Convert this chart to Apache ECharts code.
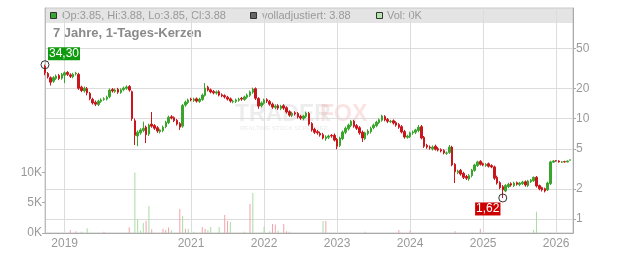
<!DOCTYPE html>
<html><head><meta charset="utf-8">
<script src="https://cdn.jsdelivr.net/npm/echarts@6/dist/echarts.min.js"></script>
<style>html,body{margin:0;padding:0;background:#fff}#c{width:632px;height:253px}</style>
</head><body><div id="c"></div>
<script>
// ---- data (biweekly candles) ----
const startDate = '2018-10-05';
const stepDays = 14;
const gapAfterIndex = 30;   // trading pause in 2020 (no data)
const gapSteps = 7;
const yearLabels = ['2019','2021','2022','2023','2024','2025','2026'];
const priceTicks = [1, 2, 5, 10, 20, 50];
const volTicks = [0, 5000, 10000];

const open = [
33.0,28.0,25.5,23.5,25.0,26.8,25.2,27.0,28.8,27.2,
26.0,27.8,27.5,20.5,18.8,19.8,17.8,15.5,14.5,13.8,
14.8,15.5,15.6,16.5,19.4,18.6,19.5,18.2,19.4,20.0,
20.8,18.5,9.5,6.7,7.2,7.6,8.2,7.0,8.8,8.5,
8.1,7.4,7.6,8.3,9.1,10.4,10.2,9.6,8.9,8.4,
13.6,14.4,15.6,15.1,15.7,14.8,15.5,17.0,20.5,19.3,
18.6,17.9,18.5,17.2,16.9,16.3,15.7,14.7,14.8,15.2,
15.9,15.5,16.3,17.0,18.3,19.8,15.8,13.4,14.2,15.4,
14.8,13.9,12.9,13.4,12.6,13.4,12.8,11.7,10.7,11.4,
11.2,10.5,10.0,10.5,11.2,8.9,7.8,7.4,7.1,6.9,
6.3,6.5,6.8,6.8,6.2,5.4,6.3,7.3,7.9,8.5,
9.4,8.5,8.1,7.3,6.3,7.1,7.4,8.1,8.5,9.1,
9.6,10.5,9.8,9.3,9.5,9.1,8.7,8.3,7.4,6.5,
6.6,7.2,7.3,7.6,8.3,6.5,5.4,5.2,5.0,5.3,
5.0,4.9,4.8,4.5,4.6,5.2,3.5,2.9,3.05,2.85,
2.65,2.5,2.7,3.05,3.4,3.75,3.55,3.4,3.55,3.4,
3.3,2.6,2.3,2.1,1.9,2.1,2.25,2.15,2.3,2.2,
2.25,2.35,2.15,2.35,2.4,2.6,2.15,2.05,2.0,1.95,
2.25,3.68,3.8,3.78,3.68,3.72,3.7,3.85];
const close = [
28.5,26.0,23.0,25.5,26.5,25.0,27.5,28.5,27.5,26.3,
27.5,28.3,20.0,19.0,20.0,18.0,15.8,14.3,13.9,14.9,
15.3,15.7,16.3,19.2,18.8,19.2,18.3,19.3,20.1,20.6,
19.2,10.0,6.8,7.3,7.7,8.0,6.9,8.6,8.4,8.0,
7.5,7.7,8.2,9.2,10.3,10.1,9.5,8.8,8.2,13.5,
14.6,15.3,15.3,15.6,14.9,15.6,17.1,20.1,19.2,18.4,
18.0,18.4,17.1,16.8,16.4,15.6,14.9,14.9,15.3,15.6,
15.6,16.4,17.1,18.4,19.6,15.9,13.3,14.3,15.3,14.9,
13.9,13.0,13.3,12.7,13.3,12.7,11.6,10.8,11.3,11.1,
10.4,10.1,10.6,11.3,8.8,7.7,7.3,7.2,6.85,6.4,
6.55,6.7,6.7,6.1,5.3,6.4,7.35,8.0,8.6,9.4,
8.4,8.0,7.2,6.4,7.2,7.5,8.0,8.6,9.2,9.7,
10.6,9.7,9.4,9.4,9.0,8.6,8.2,7.35,6.55,6.7,
7.2,7.35,7.7,8.2,6.4,5.3,5.2,5.1,5.2,4.95,
4.85,4.75,4.55,4.55,5.2,3.45,2.95,3.0,2.8,2.6,
2.55,2.7,3.07,3.45,3.7,3.5,3.45,3.5,3.35,3.3,
2.55,2.28,2.05,1.95,2.15,2.22,2.18,2.28,2.22,2.28,
2.33,2.18,2.39,2.44,2.6,2.13,2.0,1.95,1.9,2.28,
3.7,3.78,3.78,3.7,3.7,3.7,3.78,3.88];
const high = [
34.3,29.0,26.3,26.4,27.4,27.8,28.4,29.4,29.6,28.2,
28.5,29.2,28.5,21.2,20.8,20.6,18.4,16.1,15.1,15.4,
15.9,16.3,16.9,19.9,20.1,19.9,20.2,20.0,20.8,21.4,
21.5,19.0,10.0,7.6,8.0,9.3,8.5,8.9,11.6,8.8,
8.4,7.9,8.5,9.5,10.7,10.8,10.5,9.9,9.2,14.0,
15.1,15.8,16.1,16.1,16.2,16.1,17.7,22.5,21.2,19.9,
19.2,19.0,19.1,17.8,17.4,16.8,16.2,15.4,15.8,16.1,
16.4,16.9,17.7,19.0,20.3,20.4,16.3,14.8,15.8,15.9,
15.3,14.4,13.8,13.9,13.7,13.9,13.2,12.1,11.7,11.8,
11.6,10.9,10.9,11.7,11.6,9.2,8.1,7.7,7.4,7.2,
6.8,6.9,7.0,7.1,6.4,6.6,7.6,8.3,8.9,9.7,
9.7,8.8,8.4,7.6,7.4,7.8,8.3,8.9,9.5,10.0,
10.9,10.8,10.1,9.7,9.8,9.4,9.0,8.6,7.7,6.9,
7.4,7.6,7.9,8.6,8.6,6.7,5.6,5.4,5.4,5.5,
5.2,5.05,4.95,4.7,5.45,5.35,3.6,3.1,3.15,2.95,
2.75,2.8,3.15,3.55,3.8,3.85,3.65,3.6,3.65,3.5,
3.4,2.7,2.38,2.18,2.22,2.3,2.32,2.35,2.36,2.34,
2.4,2.42,2.45,2.5,2.65,2.68,2.2,2.1,2.05,2.35,
3.8,3.85,3.86,3.84,3.78,3.8,3.82,3.88];
const low = [
27.0,25.0,21.3,22.6,24.2,24.1,24.3,22.5,26.5,25.3,
25.1,26.8,19.3,18.3,18.1,17.0,15.2,13.8,13.3,13.3,
14.3,15.0,15.1,15.9,18.1,18.0,17.6,17.6,18.7,19.3,
18.5,9.5,5.45,5.3,6.9,7.3,5.7,6.7,8.1,7.7,
7.2,7.1,7.3,8.0,8.8,9.8,9.2,8.5,7.7,8.1,
13.1,13.9,14.8,14.6,14.4,14.3,15.0,16.5,18.6,17.8,
17.4,17.3,16.6,16.3,15.8,15.1,14.4,14.2,14.3,14.7,
15.0,15.0,15.7,16.4,17.6,15.3,12.5,12.9,13.7,14.3,
13.4,12.5,12.4,12.2,12.1,12.2,11.2,10.4,10.3,10.7,
10.0,9.7,9.6,10.1,8.5,7.4,7.0,6.9,6.6,6.2,
6.0,6.25,6.45,5.9,4.95,5.2,6.1,7.0,7.6,8.2,
8.1,7.7,6.9,5.85,6.1,6.8,7.1,7.8,8.2,8.8,
9.3,9.4,9.0,9.0,8.7,8.3,7.9,7.1,6.3,6.3,
6.4,6.9,7.0,7.3,6.2,5.1,5.0,4.9,4.8,4.8,
4.7,4.6,4.4,4.35,4.45,3.35,2.28,2.8,2.7,2.5,
2.45,2.4,2.6,2.95,3.3,3.4,3.35,3.3,3.25,3.2,
2.45,2.2,1.98,1.62,1.85,2.03,2.1,2.08,2.15,2.12,
2.18,2.1,2.08,2.28,2.34,2.06,1.93,1.88,1.84,1.9,
2.18,3.62,3.72,3.64,3.62,3.65,3.66,3.85];
const volUp = [
0,0,0,0,0,0,0,0,0,0, 0,0,0,200,0,800,0,0,0,0,
0,0,0,0,0,0,0,0,0,0, 0,0,10000,2260,400,1650,0,4500,0,0,
0,0,0,0,0,400,0,0,0,2800, 0,700,0,200,0,0,0,0,500,1000,
0,0,1000,0,0,0,1800,0,0,0, 0,200,0,0,6600,0,0,0,1000,0,
300,0,0,400,0,0,0,200,0,0, 0,0,0,0,0,0,0,0,0,2000,
0,0,0,0,0,0,0,0,0,0, 0,0,0,0,200,0,0,0,0,0,
0,0,0,0,0,0,0,0,0,0, 0,0,0,0,0,0,0,0,0,0,
0,0,0,0,0,0,0,0,0,0, 0,0,0,0,0,0,0,0,0,0,
0,0,0,0,0,0,0,0,0,0, 0,0,0,0,500,3500,0,0,0,0,
0,0,0,0,0,0,0,0];
const volDown = [
0,0,0,0,0,0,0,0,0,500, 0,300,0,0,0,0,0,0,0,0,
0,200,0,0,0,0,0,0,0,0, 950,0,0,0,0,0,2030,0,600,0,
0,0,700,500,900,0,0,0,3960,0, 700,0,0,0,0,0,1000,700,0,0,
0,0,0,0,2970,2000,0,0,0,0, 0,0,0,4800,0,0,0,0,0,0,
0,1500,1400,0,0,1500,300,0,0,0, 0,0,0,0,0,0,0,0,0,0,
2000,0,0,0,0,0,0,0,0,0, 0,0,0,0,0,0,0,0,0,0,
0,0,0,0,0,0,500,0,0,0, 400,0,0,0,0,0,0,0,0,0,
0,0,0,0,0,0,300,0,0,0, 0,0,0,0,0,700,0,0,0,0,
0,0,0,0,0,0,0,0,0,0, 0,0,0,0,0,0,0,0,0,0,
0,0,0,0,0,0,0,0];
const maxMark = {index: 0, value: 34.30, text: '34,30'};
const minMark = {index: 163, value: 1.62, text: '1,62'};
const header = {op: '3.85', hi: '3.88', lo: '3.85', cl: '3.88', adj: '3.88', vol: '0K'};

// ---- category dates ----
function buildDates(start, step, count, gapAfter, gapN) {
  const out = []; const t0 = Date.parse(start + 'T00:00:00Z');
  for (let i = 0; i < count; i++) {
    const k = i + (i > gapAfter ? gapN : 0);
    out.push(new Date(t0 + k * step * 86400000).toISOString().slice(0, 10));
  }
  return out;
}
const dates = buildDates(startDate, stepDays, open.length + 1, gapAfterIndex, gapSteps);
const candles = open.map((o, i) => [o, close[i], low[i], high[i]]);

const FONT = "'Liberation Sans', Arial, sans-serif";
const GREEN = '#3aa52c', RED = '#c8161c';
const isYearStart = (idx) => idx > 0 && dates[idx] && dates[idx].slice(0,4) !== dates[idx-1].slice(0,4)
  && yearLabels.indexOf(dates[idx].slice(0,4)) >= 0;

const chart = echarts.init(document.getElementById('c'), null, {renderer: 'canvas'});
chart.setOption({
  animation: false,
  backgroundColor: '#fff',
  textStyle: {fontFamily: FONT},
  grid: {left: 45, right: 59, top: 8, bottom: 20, show: true, borderColor: '#c8c8c8', borderWidth: 1, containLabel: false},
  graphic: {elements: [
    {type: 'rect', z: -10, shape: {x: 45, y: 8, width: 528, height: 15}, style: {fill: '#e4e4e4'}, silent: true},
    {type: 'rect', shape: {x: 50.5, y: 12.5, width: 6, height: 6}, style: {fill: '#39a832', stroke: '#333', lineWidth: 1}},
    {type: 'text', x: 62, y: 16, style: {text: 'Op:' + header.op + ', Hi:' + header.hi + ', Lo:' + header.lo + ', Cl:' + header.cl, font: '11px ' + FONT, fill: '#999', verticalAlign: 'middle'}},
    {type: 'rect', shape: {x: 250.5, y: 12.5, width: 6, height: 6}, style: {fill: '#666', stroke: '#333', lineWidth: 1}},
    {type: 'text', x: 262, y: 16, style: {text: 'volladjustiert: ' + header.adj, font: '11px ' + FONT, fill: '#999', verticalAlign: 'middle'}},
    {type: 'rect', shape: {x: 376.5, y: 12.5, width: 6, height: 6}, style: {fill: '#b5e3ad', stroke: '#333', lineWidth: 1}},
    {type: 'text', x: 387, y: 16, style: {text: 'Vol: ' + header.vol, font: '11px ' + FONT, fill: '#999', verticalAlign: 'middle'}},
    {type: 'text', x: 53, y: 33, style: {text: '7 Jahre, 1-Tages-Kerzen', font: 'bold 13px ' + FONT, fill: '#8a8a8a', verticalAlign: 'middle'}},
    {type: 'text', x: 235, y: 115, z: -5, style: {text: 'TRADER', font: 'bold 23px ' + FONT, fill: 'rgba(0,0,0,0.07)', verticalAlign: 'middle'}},
    {type: 'text', x: 320, y: 115, z: -5, style: {text: 'FOX', font: 'bold 23px ' + FONT, fill: 'rgba(230,40,40,0.13)', verticalAlign: 'middle'}},
    {type: 'text', x: 240, y: 128, z: -5, style: {text: 'REALTIME STOCK SCREENER', font: 'bold 6px ' + FONT, fill: 'rgba(0,0,0,0.07)', verticalAlign: 'middle'}}
  ]},
  xAxis: {
    type: 'category', data: dates, boundaryGap: false,
    axisLine: {lineStyle: {color: '#aaa'}},
    axisTick: {show: false},
    axisLabel: {interval: (i) => isYearStart(i), formatter: (v) => v.slice(0,4), color: '#999', fontSize: 12, margin: 5, fontFamily: FONT},
    splitLine: {show: true, interval: (i) => isYearStart(i), lineStyle: {color: '#dcdcdc'}}
  },
  yAxis: [
    {type: 'log', position: 'right', min: 0.726, max: 125.8, logBase: 10,
     axisLine: {show: true, lineStyle: {color: '#aaa'}},
     axisTick: {show: true, length: 3, customValues: priceTicks, lineStyle: {color: '#aaa'}},
     axisLabel: {customValues: priceTicks, color: '#999', fontSize: 12, margin: 3, fontFamily: FONT, formatter: (v) => String(v)},
     splitLine: {show: true, lineStyle: {color: '#dcdcdc'}}},
    {type: 'value', position: 'left', min: 0, max: 37130,
     axisLine: {show: true, lineStyle: {color: '#bbb'}},
     axisTick: {show: true, length: 3, customValues: volTicks, lineStyle: {color: '#aaa'}},
     axisLabel: {customValues: volTicks, color: '#999', fontSize: 12, margin: 3, fontFamily: FONT, formatter: (v) => (v / 1000) + 'K'},
     splitLine: {show: false}}
  ],
  series: [
    {type: 'bar', yAxisIndex: 1, data: volUp, barWidth: 1, barGap: '-100%', itemStyle: {color: '#a9dca2'}, z: 1},
    {type: 'bar', yAxisIndex: 1, data: volDown, barWidth: 1, barGap: '-100%', itemStyle: {color: '#f1a3ab'}, z: 1},
    {type: 'candlestick', yAxisIndex: 0, data: candles, barWidth: 2,
     itemStyle: {color: GREEN, color0: RED, borderColor: GREEN, borderColor0: RED, borderWidth: 1},
     z: 3,
     markPoint: {
       symbol: 'circle', symbolSize: 8,
       itemStyle: {color: 'rgba(0,0,0,0)', borderColor: '#333', borderWidth: 1},
       data: [
         {coord: [maxMark.index, maxMark.value], label: {show: true, formatter: maxMark.text, position: 'inside', offset: [19, -11], color: '#fff', fontSize: 12, fontFamily: FONT, backgroundColor: '#109a10', padding: [1, 1, 0, 1]}},
         {coord: [minMark.index, minMark.value], label: {show: true, formatter: minMark.text, position: 'inside', offset: [-15, 11], color: '#fff', fontSize: 12, fontFamily: FONT, backgroundColor: '#cc0000', padding: [1, 1, 0, 1]}}
       ]
     }}
  ]
});
</script></body></html>
